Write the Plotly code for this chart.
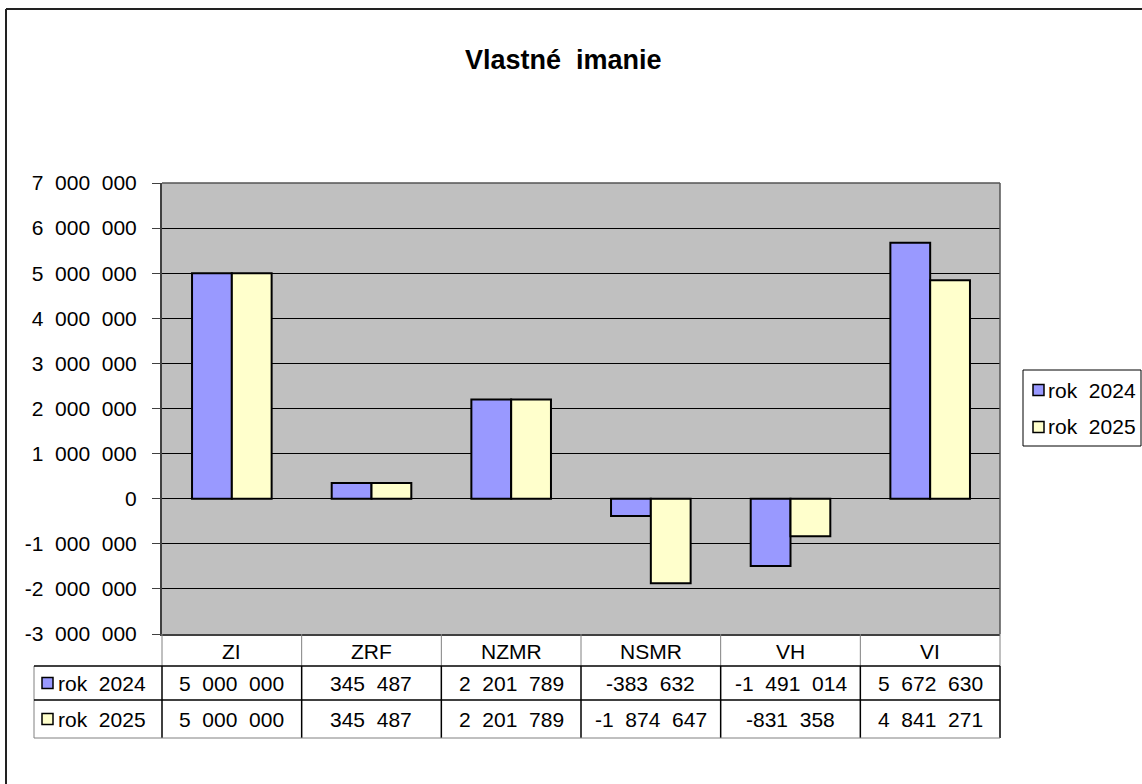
import plotly.graph_objects as go

# ---- data ----
categories = ["ZI", "ZRF", "NZMR", "NSMR", "VH", "VI"]
series_names = ["rok 2024", "rok 2025"]
values_2024 = [5000000, 345487, 2201789, -383632, -1491014, 5672630]
values_2025 = [5000000, 345487, 2201789, -1874647, -831358, 4841271]
tick_values = [-3000000, -2000000, -1000000, 0, 1000000, 2000000, 3000000,
               4000000, 5000000, 6000000, 7000000]
title_text = "Vlastné imanie"

W, H = 1142, 784
FONT = "Arial, Liberation Sans, sans-serif"
C_BLUE = "#9999FF"
C_YELLOW = "#FFFFCC"
SP = "\u00a0\u00a0"


def fmt(v):
    return f"{v:,}".replace(",", SP)


def px(x):
    return x / W


def py(y):
    return 1 - y / H


# plot area in pixels
L, R, T, B = 162, 1000, 183, 634

fig = go.Figure()
for name, vals, col in [(series_names[0], values_2024, C_BLUE),
                        (series_names[1], values_2025, C_YELLOW)]:
    fig.add_trace(go.Bar(
        x=categories, y=vals, name=name,
        marker=dict(color=col, line=dict(color="black", width=2)),
        showlegend=False,
    ))

shapes = []
annotations = []


def line(x0, y0, x1, y1, color="black", width=1):
    shapes.append(dict(type="line", xref="paper", yref="paper",
                       x0=px(x0), y0=py(y0), x1=px(x1), y1=py(y1),
                       line=dict(color=color, width=width)))


def text(x, y, s, size=21, xanchor="center", bold=False):
    annotations.append(dict(xref="paper", yref="paper", x=px(x), y=py(y),
                            text=f"<b>{s}</b>" if bold else s,
                            showarrow=False, xanchor=xanchor, yanchor="middle",
                            font=dict(family=FONT, size=size, color="black")))


# outer chart border (top / left)
line(6, 9, W + 2, 9, "#222", 2)
line(6, 9, 6, H + 2, "#222", 2)

# plot area border (top/right)
line(L, T, R, T, "#555", 1.5)
line(R, T, R, B, "#555", 1.5)

# data table
ncat = len(categories)
colw = (R - L) / ncat
col_x = [L + i * colw for i in range(ncat + 1)]
ROW0, ROW1, ROW2, ROW3 = B, 666, 700, 738
TBL_L = 34

# header row verticals (gray)
for x in col_x[1:]:
    line(x, ROW0, x, ROW1, "#808080", 1)
line(L, ROW0, L, ROW1, "#808080", 1)
# data rows
for x in col_x:
    line(x, ROW1, x, ROW3, "black", 1.5)
line(TBL_L, ROW1, TBL_L, ROW3, "#808080", 1)
line(TBL_L, ROW1, R, ROW1, "black", 1.5)
line(TBL_L, ROW2, R, ROW2, "black", 1.5)
line(TBL_L, ROW3, R, ROW3, "#808080", 1)

# category labels
for i, c in enumerate(categories):
    text(col_x[i] + colw / 2, (ROW0 + ROW1) / 2 + 1, c)

rows = [(series_names[0], values_2024, C_BLUE, (ROW1 + ROW2) / 2),
        (series_names[1], values_2025, C_YELLOW, (ROW2 + ROW3) / 2)]
for name, vals, col, yc in rows:
    shapes.append(dict(type="rect", xref="paper", yref="paper",
                       x0=px(42), x1=px(53), y0=py(yc - 5.5), y1=py(yc + 5.5),
                       fillcolor=col, line=dict(color="black", width=1.5)))
    text(56, yc, name.replace(" ", SP), xanchor="left")
    for i, v in enumerate(vals):
        text(col_x[i] + colw / 2, yc, fmt(v))

# legend box (right)
line(1023, 370, 1141, 370, "black", 1)
line(1023, 446, 1141, 446, "black", 1)
line(1023, 370, 1023, 446, "black", 1)
line(1141, 370, 1141, 446, "black", 1)
for (name, vals, col, _), yc in zip(rows, [390, 427]):
    shapes.append(dict(type="rect", xref="paper", yref="paper",
                       x0=px(1033), x1=px(1044), y0=py(yc - 5.5), y1=py(yc + 5.5),
                       fillcolor=col, line=dict(color="black", width=1.5)))
    text(1046, yc, name.replace(" ", SP), xanchor="left")

# title
text(563, 60, title_text.replace(" ", SP), size=27, bold=True)

fig.update_layout(
    width=W, height=H,
    margin=dict(l=0, r=0, t=0, b=0),
    paper_bgcolor="white",
    plot_bgcolor="#C0C0C0",
    barmode="group", bargap=0.43, bargroupgap=0,
    shapes=shapes, annotations=annotations,
    showlegend=False,
    font=dict(family=FONT, size=21, color="black"),
    xaxis=dict(domain=[px(L), px(R)], showticklabels=False, showgrid=False,
               ticks="", showline=True, linecolor="#404040", linewidth=2,
               range=[-0.5, ncat - 0.5], automargin=False, zeroline=False),
    yaxis=dict(domain=[py(B), py(T)], range=[-3000000, 7000000],
               tickvals=tick_values, ticktext=[fmt(v) for v in tick_values],
               showgrid=True, gridcolor="black", gridwidth=1,
               zeroline=True, zerolinecolor="black", zerolinewidth=1,
               showline=True, linecolor="#404040", linewidth=2,
               ticks="outside", ticklen=8, tickcolor="#404040", tickwidth=1,
               ticklabelstandoff=11,
               tickfont=dict(family=FONT, size=21, color="black"),
               automargin=False),
)

fig.write_html("out.html",
               config={"displayModeBar": False},
               post_script="document.body.style.margin='0';"
                           "document.body.style.overflow='hidden';")
